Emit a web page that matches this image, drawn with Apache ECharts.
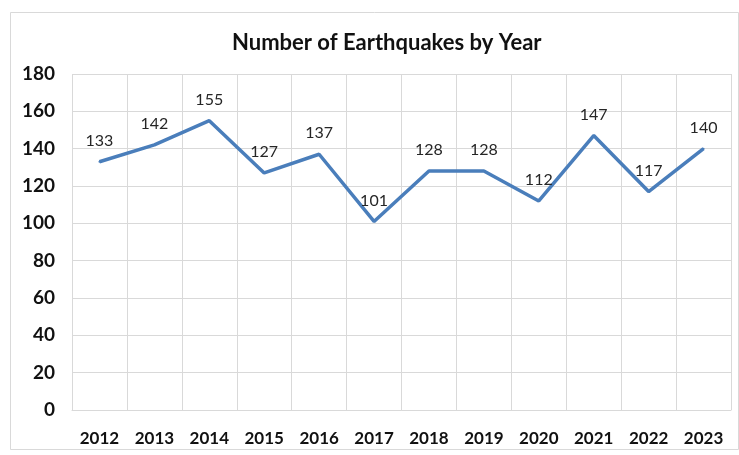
<!DOCTYPE html>
<html>
<head>
<meta charset="utf-8">
<script src="https://cdn.jsdelivr.net/npm/echarts@6/dist/echarts.min.js"></script>
<style>
  html, body { margin: 0; padding: 0; background: #fff; }
  #chart { width: 739px; height: 455px; }
</style>
</head>
<body>
<div id="chart"></div>
<script>
// chart data
var years = ['2012', '2013', '2014', '2015', '2016', '2017', '2018', '2019', '2020', '2021', '2022', '2023'];
var quakes = [133, 142, 155, 127, 137, 101, 128, 128, 112, 147, 117, 140];

var font = 'Lato, "Open Sans", sans-serif';
var myChart = echarts.init(document.getElementById('chart'));

var option = {
  backgroundColor: '#fff',
  animation: false,
  graphic: [{
    type: 'rect',
    left: 8, top: 10,
    shape: { width: 728, height: 437 },
    style: { fill: 'none', stroke: '#d9d9d9', lineWidth: 1 }
  }],
  title: {
    text: 'Number of Earthquakes by Year',
    left: 227,
    top: 27,
    textStyle: { fontFamily: font, fontSize: 22, fontWeight: 'bold', color: '#111' }
  },
  grid: { left: 72, right: 8, top: 74, bottom: 45, containLabel: false },
  xAxis: {
    type: 'category',
    data: years,
    boundaryGap: true,
    axisTick: { show: false },
    axisLine: { lineStyle: { color: '#d9d9d9' } },
    splitLine: { show: true, lineStyle: { color: '#d9d9d9' } },
    axisLabel: { margin: 20, fontFamily: font, fontSize: 17, fontWeight: 'bold', color: '#111' }
  },
  yAxis: {
    type: 'value',
    min: 0, max: 180, interval: 20,
    axisTick: { show: false },
    axisLine: { show: false },
    splitLine: { lineStyle: { color: '#d9d9d9' } },
    axisLabel: { margin: 17, fontFamily: font, fontSize: 19, fontWeight: 'bold', color: '#111' }
  },
  series: [{
    type: 'line',
    data: quakes,
    symbol: 'circle',
    symbolSize: 2,
    showSymbol: true,
    itemStyle: { color: '#4a7ebb' },
    lineStyle: { color: '#4a7ebb', width: 3.5 },
    label: {
      show: true,
      position: 'top',
      distance: 12,
      fontFamily: font,
      fontSize: 16,
      color: '#262626'
    }
  }]
};

myChart.setOption(option);
</script>
</body>
</html>
